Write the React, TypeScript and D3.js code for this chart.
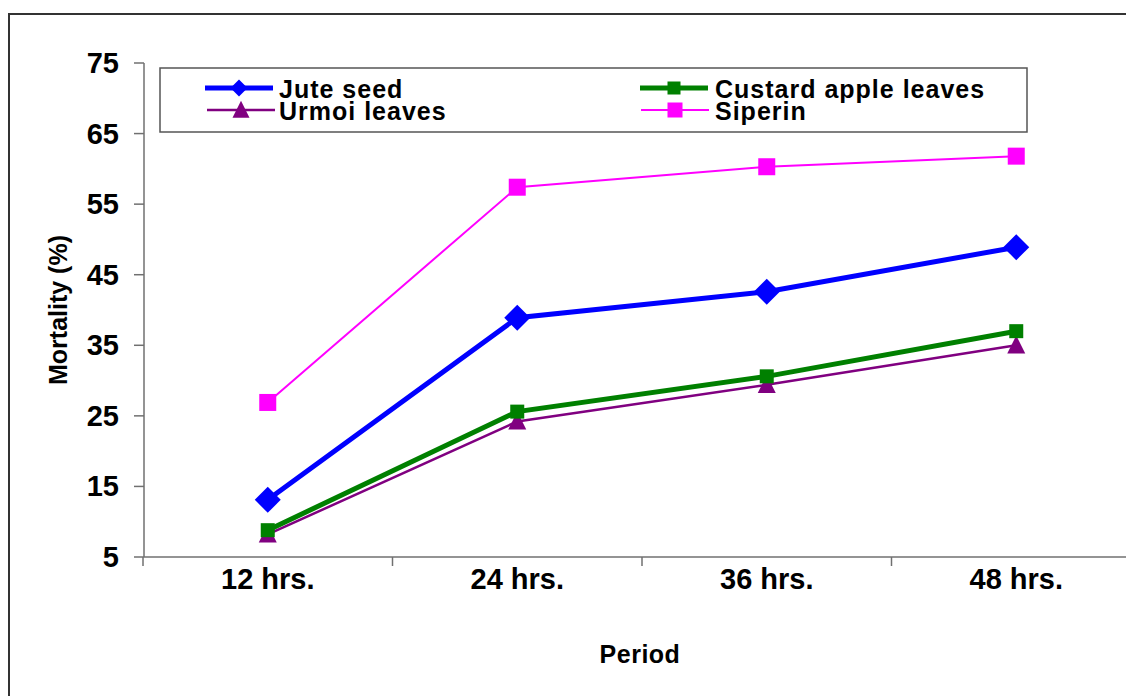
import React from "react";
import * as d3 from "d3";

const categories = ["12 hrs.", "24 hrs.", "36 hrs.", "48 hrs."];
const juteSeed = [13.1, 38.9, 42.6, 48.9];
const custardApple = [8.8, 25.6, 30.6, 37.0];
const urmoiLeaves = [8.2, 24.2, 29.4, 35.0];
const siperin = [26.9, 57.4, 60.3, 61.8];
const yTicks = [5, 15, 25, 35, 45, 55, 65, 75];

type Series = { name: string; values: number[]; color: string; width: number; marker: string; size: number; legendSize: number };

const series: Series[] = [
  { name: "Siperin", values: siperin, color: "#FF00FF", width: 2, marker: "square", size: 17, legendSize: 15 },
  { name: "Urmoi leaves", values: urmoiLeaves, color: "#800080", width: 2.5, marker: "triangle", size: 18, legendSize: 17 },
  { name: "Custard apple leaves", values: custardApple, color: "#008000", width: 5, marker: "square", size: 14, legendSize: 13 },
  { name: "Jute seed", values: juteSeed, color: "#0000FF", width: 5, marker: "diamond", size: 26, legendSize: 17 },
];

const FONT = "'Liberation Sans', Arial, sans-serif";

function Marker({ type, x, y, size, color }: { type: string; x: number; y: number; size: number; color: string }) {
  const h = size / 2;
  if (type === "square") return <rect x={x - h} y={y - h} width={size} height={size} fill={color} />;
  if (type === "diamond") return <path d={`M${x},${y - h}L${x + h},${y}L${x},${y + h}L${x - h},${y}Z`} fill={color} />;
  const th = size;
  return <path d={`M${x},${y - th * 0.55}L${x + h},${y + th * 0.45}L${x - h},${y + th * 0.45}Z`} fill={color} />;
}

export default function App() {
  const W = 1126, H = 696;
  const x = d3.scaleBand<string>().domain(categories).range([143, 1141]).padding(0);
  const y = d3.scaleLinear().domain([5, 75]).range([557, 63]);
  const cx = (c: string) => (x(c) as number) + x.bandwidth() / 2;
  const line = d3.line<[number, number]>().x((d) => d[0]).y((d) => d[1]);
  const axisColor = "#707070";
  const boundaries = categories.map((c) => x(c) as number).concat([(x(categories[3]) as number) + x.bandwidth()]);

  const legendItems = [
    { s: series[3], lx: 205, tx: 279, ly: 88 },
    { s: series[2], lx: 640, tx: 715, ly: 88 },
    { s: series[1], lx: 207, tx: 279, ly: 110 },
    { s: series[0], lx: 641, tx: 715, ly: 110 },
  ];

  return (
    <svg width={W} height={H} style={{ position: "absolute", left: 0, top: 0, background: "#fff" }} fontFamily={FONT}>
      <rect x={0} y={0} width={W} height={H} fill="#fff" />
      <rect x={9} y={14} width={1300} height={900} fill="none" stroke="#333" strokeWidth={2} />

      {/* axes */}
      <line x1={144} y1={63} x2={144} y2={557} stroke={axisColor} strokeWidth={1.5} />
      <line x1={144} y1={557} x2={1141} y2={557} stroke={axisColor} strokeWidth={1.5} />
      {yTicks.map((t) => (
        <g key={t}>
          <line x1={134} x2={144} y1={y(t)} y2={y(t)} stroke={axisColor} strokeWidth={1.5} />
          <text x={119} y={y(t) + 10} textAnchor="end" fontSize={29} fontWeight="bold" fill="#000">{t}</text>
        </g>
      ))}
      {boundaries.map((b, i) => (
        <line key={i} x1={b} x2={b} y1={557} y2={566} stroke={axisColor} strokeWidth={1.5} />
      ))}
      {categories.map((c) => (
        <text key={c} x={cx(c)} y={589} textAnchor="middle" fontSize={29} fontWeight="bold" fill="#000">{c}</text>
      ))}
      <text x={640} y={663} textAnchor="middle" fontSize={25} fontWeight="bold" letterSpacing={0.5} fill="#000">Period</text>
      <text transform="translate(67,310) rotate(-90)" textAnchor="middle" fontSize={25} fontWeight="bold" fill="#000">Mortality (%)</text>

      {/* series */}
      {series.map((s) => {
        const pts = s.values.map((v, i) => [cx(categories[i]), y(v)] as [number, number]);
        return (
          <g key={s.name}>
            <path d={line(pts) || ""} fill="none" stroke={s.color} strokeWidth={s.width} />
            {pts.map((p, i) => (
              <Marker key={i} type={s.marker} x={p[0]} y={p[1]} size={s.size} color={s.color} />
            ))}
          </g>
        );
      })}

      {/* legend */}
      <rect x={160} y={68} width={867} height={64} fill="#fff" stroke="#555" strokeWidth={1.5} />
      {legendItems.map(({ s, lx, tx, ly }) => (
        <g key={s.name}>
          <line x1={lx} x2={lx + 68} y1={ly} y2={ly} stroke={s.color} strokeWidth={s.width} />
          <Marker type={s.marker} x={lx + 34} y={ly} size={s.legendSize} color={s.color} />
          <text x={tx} y={ly + 9.5} fontSize={25} fontWeight="bold" letterSpacing={1} fill="#000">{s.name}</text>
        </g>
      ))}
    </svg>
  );
}
